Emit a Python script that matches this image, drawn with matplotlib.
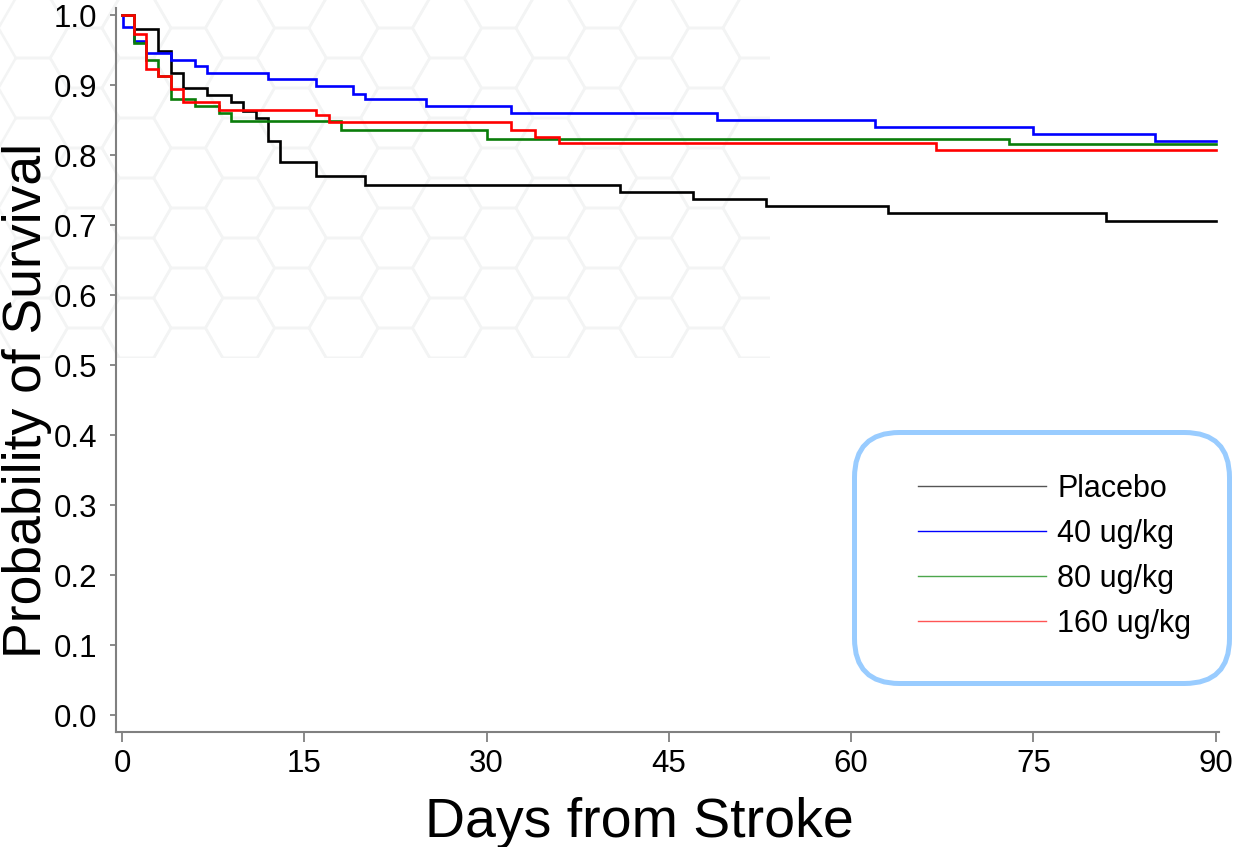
import numpy as np
import matplotlib
matplotlib.use('Agg')
import matplotlib.pyplot as plt
from matplotlib.lines import Line2D
from matplotlib.patches import FancyBboxPatch, RegularPolygon, Rectangle
from matplotlib.collections import PatchCollection

plt.rcParams['font.family'] = ['Liberation Sans', 'DejaVu Sans']

# Kaplan-Meier step data (day of each step, survival after the step)
placebo_days = [0, 1, 3, 4, 5, 7, 9, 10, 11, 12, 13, 16, 20, 41, 47, 53, 63, 81, 90]
placebo_surv = [1.0, 0.981, 0.949, 0.918, 0.897, 0.886, 0.877, 0.864, 0.854, 0.821,
                0.790, 0.770, 0.758, 0.748, 0.738, 0.727, 0.718, 0.706, 0.706]

dose40_days = [0, 0.05, 1, 2, 4, 6, 7, 12, 16, 19, 20, 25, 32, 49, 62, 75, 85, 90]
dose40_surv = [1.0, 0.983, 0.963, 0.946, 0.936, 0.928, 0.918, 0.909, 0.899, 0.888,
               0.880, 0.870, 0.860, 0.851, 0.841, 0.831, 0.820, 0.820]

dose80_days = [0, 1, 2, 3, 4, 6, 8, 9, 18, 30, 73, 90]
dose80_surv = [1.0, 0.961, 0.936, 0.914, 0.881, 0.870, 0.860, 0.849, 0.837, 0.824,
               0.816, 0.816]

dose160_days = [0, 1, 2, 3, 4, 5, 8, 16, 17, 32, 34, 36, 67, 90]
dose160_surv = [1.0, 0.973, 0.924, 0.914, 0.895, 0.876, 0.865, 0.858, 0.848, 0.837,
                0.827, 0.817, 0.808, 0.808]

labels = ['Placebo', '40 ug/kg', '80 ug/kg', '160 ug/kg']
line_colors = ['#000000', '#0000ff', '#0a7d0a', '#ff0000']
legend_colors = ['#555555', '#0000ff', '#4ca64c', '#ff5555']

x_ticks = [0, 15, 30, 45, 60, 75, 90]
y_ticks = [0.0, 0.1, 0.2, 0.3, 0.4, 0.5, 0.6, 0.7, 0.8, 0.9, 1.0]

W, H = 1235, 847
fig = plt.figure(figsize=(W / 100, H / 100), dpi=100)

# faint hexagon watermark in the upper left
s = 34.5
hexes = []
for i in range(17):
    cx = 33 + 1.5 * s * i
    for j in range(-1, 8):
        cy = 28 + 60 * j + (30 if i % 2 else 0)
        hexes.append(RegularPolygon((cx / 100, (H - cy) / 100), 6, radius=s / 100,
                                    orientation=np.pi / 6))
pc = PatchCollection(hexes, facecolor='none', edgecolor='#f3f4f4', lw=1.8,
                     transform=fig.dpi_scale_trans, zorder=0)
clip = Rectangle((0, (H - 358) / 100), 770 / 100, 358 / 100,
                 transform=fig.dpi_scale_trans)
pc.set_clip_path(clip)
fig.add_artist(pc)

ax = fig.add_axes([116 / W, 1 - 732 / H, (1219 - 116) / W, (732 - 8) / H])
ax.set_facecolor('none')

series = [(placebo_days, placebo_surv), (dose40_days, dose40_surv),
          (dose80_days, dose80_surv), (dose160_days, dose160_surv)]
# draw placebo first, then the doses on top
for (d, sv), c in zip(series, line_colors):
    ax.step(d, sv, where='post', color=c, lw=1.9, solid_joinstyle='miter')

ax.set_xlim(-0.49, 90.27)
ax.set_ylim(-0.0243, 1.0107)
ax.set_xticks(x_ticks)
ax.set_xticklabels([str(t) for t in x_ticks])
ax.set_yticks(y_ticks)
ax.set_yticklabels(['%.1f' % t for t in y_ticks])

for side in ['top', 'right']:
    ax.spines[side].set_visible(False)
for side in ['left', 'bottom']:
    ax.spines[side].set_color('#808080')
    ax.spines[side].set_linewidth(1.5)

ax.tick_params(axis='y', direction='out', length=4.3, width=1.3, color='#808080',
               pad=9.4, labelsize=22.5)
ax.tick_params(axis='x', direction='out', length=7.2, width=1.3, color='#808080',
               pad=5, labelsize=22.5)

# axis titles
fig.text(639 / W, 1 - 837 / H, 'Days from Stroke', fontsize=40,
         ha='center', va='baseline')
fig.text(27 / W, 1 - 400 / H, 'Probability of Survival', fontsize=38.5,
         rotation=90, ha='center', va='center')

# legend with rounded light-blue frame
frame = FancyBboxPatch((854.5 / 100, (H - 683.5) / 100), 3.75, 2.51,
                       boxstyle='round,pad=0,rounding_size=0.45',
                       transform=fig.dpi_scale_trans, facecolor='white',
                       edgecolor='#99ccff', lw=3.6, zorder=5)
fig.add_artist(frame)

handles = [Line2D([], [], color=c, lw=1.0) for c in legend_colors]
leg = ax.legend(handles, labels, loc='upper left',
                bbox_to_anchor=(918 / 100, (H - 474) / 100),
                bbox_transform=fig.dpi_scale_trans, frameon=False,
                fontsize=22, handlelength=4.2, handletextpad=0.36,
                labelspacing=0.49, borderpad=0, borderaxespad=0)
leg.set_zorder(6)
fig.add_artist(leg)

fig.savefig('out.png', dpi=100)
